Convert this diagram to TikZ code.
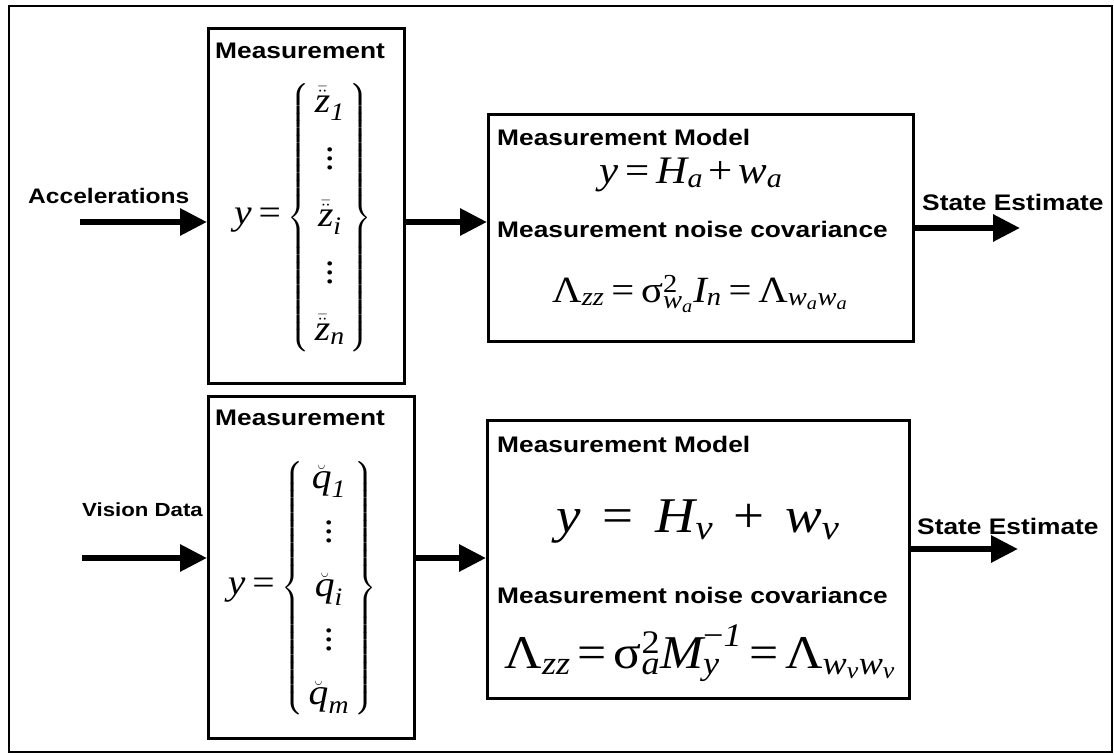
\documentclass[tikz,border=0pt]{standalone}
\usepackage{amsmath}
\usepackage{fontspec}
\newfontfamily\lblsf[FakeStretch=1.17]{Liberation Sans}
\newfontfamily\tnr[FakeStretch=1.1]{Liberation Serif}
\usetikzlibrary{arrows.meta}
\newcommand{\mi}[1]{\text{\tnr\itshape #1}}
\newcommand{\mg}[1]{\text{\tnr #1}}
\newcommand{\meq}{\mathrel{\mg{=}}}
\newcommand{\mplus}{\mathbin{\mg{+}}}
\newcommand{\vdts}{\text{\tnr\vbox{\baselineskip=0.25em\lineskiplimit=-10pt\hbox{.}\hbox{.}\hbox{.}}}}

\begin{document}
\begin{tikzpicture}[x=1pt, y=-1pt,
    blk/.style={draw, line width=2.6pt, anchor=north west, inner sep=0pt},
    lbl/.style={font=\lblsf\bfseries\fontsize{22.5}{26}\selectfont, inner sep=0pt, anchor=base west},
    mth/.style={inner sep=0pt},
    arr/.style={line width=6pt, -{Triangle[length=27pt, width=26pt]}}]
    \useasboundingbox (0,0) rectangle (1114,755);
    \draw[line width=2.6pt] (9,6) rectangle (1112,752);
    % blocks
    \node[blk, minimum width=196pt, minimum height=355pt] (meas1) at (207,27) {};
    \node[blk, minimum width=206pt, minimum height=342pt] (meas2) at (207,395) {};
    \node[blk, minimum width=425pt, minimum height=227pt] (model1) at (487,113) {};
    \node[blk, minimum width=422pt, minimum height=278pt] (model2) at (486,419) {};
    % titles
    \node[lbl] (meas1title) at (215,58) {Measurement};
    \node[lbl] (meas2title) at (215,425) {Measurement};
    \node[lbl] (model1title) at (497,145) {Measurement Model};
    \node[lbl] (model1noise) at (497,237) {Measurement noise covariance};
    \node[lbl] (model2title) at (497,452) {Measurement Model};
    \node[lbl] (model2noise) at (497,603) {Measurement noise covariance};
    \node[lbl, font=\lblsf\bfseries\fontsize{21}{25}\selectfont] (acctext) at (28,203) {Accelerations};
    \node[lbl, font=\lblsf\bfseries\fontsize{19}{22}\selectfont] (vistext) at (82,516) {Vision Data};
    \node[lbl] (est1text) at (922,210) {State Estimate};
    \node[lbl] (est2text) at (917,534) {State Estimate};
    % measurement vectors
    \node[mth, font=\tnr\fontsize{36}{42}\selectfont] (vec1) at (303,218)
        {$\mi{y} \meq \left\{\begin{array}{c} \bar{\ddot{\mi{z}}}_{\mi{1}} \\[15pt] \vdts \\[15pt] \bar{\ddot{\mi{z}}}_{\mi{i}} \\[15pt] \vdts \\[15pt] \bar{\ddot{\mi{z}}}_{\mi{n}} \end{array}\right\}$};
    \node[mth, font=\tnr\fontsize{36}{42}\selectfont] (vec2) at (302,588)
        {$\mi{y} \meq \left\{\begin{array}{c} \breve{\mi{q}}_{\mi{1}} \\[12pt] \vdts \\[12pt] \breve{\mi{q}}_{\mi{i}} \\[12pt] \vdts \\[12pt] \breve{\mi{q}}_{\mi{m}} \end{array}\right\}$};
    % model equations
    \node[mth, anchor=base, font=\tnr\fontsize{39}{44}\selectfont] (eq1) at (691,183)
        {$\mi{y} \meq \mi{H}_{\mi{a}} \mplus \mi{w}_{\mi{a}}$};
    \node[mth, anchor=base, font=\tnr\fontsize{37}{42}\selectfont] (cov1) at (700,302)
        {$\mg{Λ}_{\mi{zz}} \meq \mg{σ}^{\mg{2}}_{\mi{w}_{\mi{a}}} \mi{I}_{\mi{n}} \meq \mg{Λ}_{\mi{w}_{\mi{a}}\mi{w}_{\mi{a}}}$};
    \node[mth, anchor=base, font=\tnr\fontsize{50}{58}\selectfont] (eq2) at (698,532)
        {$\mi{y}\hspace{0.3em}\meq\hspace{0.3em}\mi{H}_{\mi{v}}\hspace{0.3em}\mplus\hspace{0.3em}\mi{w}_{\mi{v}}$};
    \node[mth, anchor=base, font=\tnr\fontsize{47}{54}\selectfont] (cov2) at (700,668)
        {$\mg{Λ}_{\mi{zz}} \meq \mg{σ}^{\mg{2}}_{\mi{a}} \mi{M}^{\mg{−}\mi{1}}_{\mi{y}} \meq \mg{Λ}_{\mi{w}_{\mi{v}}\mi{w}_{\mi{v}}}$};
    % connectors
    \coordinate (accin) at (80,222);
    \coordinate (visin) at (82,558);
    \coordinate (out1) at (1020,228);
    \coordinate (out2) at (1018,549);
    \draw[arr] (accin) -- (accin -| meas1.west);
    \draw[arr] (visin) -- (visin -| meas2.west);
    \draw[arr] (meas1.east |- accin) -- (model1.west |- accin);
    \draw[arr] (meas2.east |- visin) -- (model2.west |- visin);
    \draw[arr] (model1.east |- out1) -- (out1);
    \draw[arr] (model2.east |- out2) -- (out2);
\end{tikzpicture}
\end{document}
